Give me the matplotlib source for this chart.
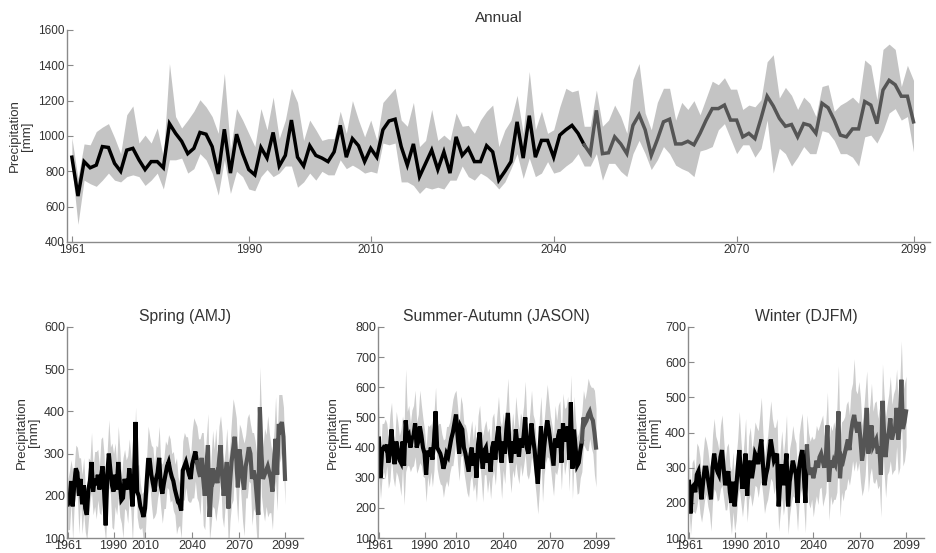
import numpy as np
import matplotlib
matplotlib.use('Agg')
import matplotlib.pyplot as plt

plt.rcParams['font.family'] = ['Liberation Sans', 'DejaVu Sans']

years = np.arange(1961, 2100)
tick_years = [1961, 1990, 2010, 2040, 2070, 2099]

# annual precipitation [mm], ensemble mean and spread
ann_mean = [880, 660, 855, 820, 835, 940, 935, 845, 800, 920,
            930, 865, 810, 855, 855, 820, 1070, 1015, 970, 900,
            930, 1020, 1010, 940, 785, 1038, 790, 1010, 900, 810,
            780, 935, 875, 1020, 830, 890, 1090, 880, 830, 945,
            890, 875, 855, 910, 1060, 880, 985, 945, 855, 930,
            880, 1035, 1085, 1095, 940, 835, 955, 770, 845, 920,
            810, 910, 790, 995, 890, 930, 855, 855, 945, 910,
            750, 800, 855, 1080, 875, 1115, 880, 975, 975, 880,
            1005, 1035, 1060, 1015, 950, 900, 1145, 900, 905, 995,
            955, 900, 1060, 1120, 1035, 890, 980, 1080, 1095, 955,
            955, 970, 950, 1015, 1090, 1155, 1155, 1175, 1090, 1090,
            995, 1015, 985, 1100, 1225, 1170, 1100, 1055, 1065, 995,
            1070, 1060, 1015, 1185, 1160, 1090, 1005, 995, 1040, 1040,
            1195, 1175, 1070, 1260, 1315, 1290, 1225, 1225, 1080]
ann_hi = [990, 760, 955, 950, 1025, 1050, 1070, 990, 900, 1120,
          1170, 960, 1005, 960, 1045, 880, 1410, 1110, 1045, 1090,
          1140, 1205, 1165, 1110, 1015, 1355, 920, 1155, 1090, 1015,
          940, 1155, 1035, 1220, 985, 1090, 1270, 1190, 975, 1090,
          1035, 975, 985, 985, 1140, 1015, 1200, 1090, 995, 1090,
          975, 1190, 1230, 1270, 1090, 1055, 1190, 940, 975, 1150,
          975, 1005, 975, 1130, 1055, 1060, 1015, 1090, 1140, 1175,
          940, 1035, 1090, 1230, 1015, 1365, 1035, 1140, 1015, 1035,
          1165, 1270, 1250, 1260, 1055, 1055, 1260, 1055, 1090, 1175,
          1110, 1015, 1320, 1410, 1130, 1035, 1190, 1270, 1270, 1090,
          1190, 1150, 1200, 1120, 1215, 1310, 1290, 1330, 1265, 1265,
          1150, 1175, 1165, 1205, 1420, 1460, 1215, 1275, 1230, 1150,
          1220, 1185, 1110, 1280, 1290, 1140, 1175, 1195, 1220, 1185,
          1430, 1400, 1205, 1490, 1520, 1490, 1280, 1400, 1315]
ann_lo = [830, 500, 750, 730, 715, 750, 790, 750, 740, 770,
          780, 770, 720, 750, 790, 700, 865, 865, 875, 790,
          815, 900, 865, 790, 665, 865, 675, 800, 770, 700,
          690, 770, 810, 770, 790, 830, 830, 710, 740, 790,
          750, 800, 780, 780, 865, 815, 835, 815, 790, 800,
          790, 960, 950, 960, 740, 740, 720, 675, 710, 700,
          710, 700, 750, 750, 830, 770, 750, 790, 770, 740,
          700, 740, 815, 900, 760, 875, 770, 790, 855, 790,
          800, 830, 855, 900, 830, 830, 900, 750, 845, 845,
          800, 770, 900, 975, 900, 810, 865, 940, 900, 835,
          815, 800, 770, 915, 925, 940, 1035, 1070, 985, 900,
          950, 950, 880, 930, 1090, 790, 930, 900, 830, 880,
          940, 900, 900, 1030, 1020, 975, 900, 900, 880, 830,
          995, 1005, 960, 1030, 1130, 1155, 1090, 1110, 910]

spring = [180, 190, 235, 175, 225, 265, 255, 200, 240, 180,
          225, 170, 155, 215, 235, 280, 210, 240, 225, 250,
          215, 245, 270, 210, 130, 250, 300, 260, 225, 210,
          250, 215, 280, 230, 190, 195, 240, 225, 215, 265,
          230, 175, 240, 375, 210, 200, 175, 165, 150, 170,
          230, 285, 285, 250, 230, 210, 240, 255, 290, 225,
          205, 230, 250, 270, 280, 260, 245, 235, 215, 200,
          185, 180, 165, 260, 270, 280, 265, 250, 240, 275,
          290, 305, 280, 260, 245, 290, 240, 200, 270, 320,
          150, 210, 265, 240, 250, 230, 280, 320, 250, 200,
          245, 280, 170, 230, 280, 310, 340, 290, 220, 310,
          280, 240, 215, 270, 290, 315, 300, 240, 260, 245,
          200, 155, 410, 300, 240, 250, 260, 270, 255, 240,
          210, 280, 335, 250, 370, 360, 375, 340, 240]
spring_hw = [60, 70, 50, 80, 45, 55, 60, 90, 50, 70,
             65, 55, 60, 75, 50, 70, 55, 65, 80, 60,
             55, 90, 70, 85, 40, 60, 80, 55, 100, 90,
             75, 60, 85, 80, 55, 95, 70, 60, 80, 70,
             65, 85, 50, 35, 60, 75, 55, 40, 60, 70,
             60, 80, 55, 70, 85, 60, 80, 60, 75, 55,
             70, 60, 80, 50, 65, 75, 55, 70, 60, 90,
             60, 50, 65, 70, 80, 60, 75, 65, 55, 80,
             95, 70, 85, 75, 90, 60, 110, 80, 70, 75,
             55, 80, 90, 70, 110, 60, 85, 70, 100, 75,
             65, 80, 110, 90, 100, 120, 70, 95, 85, 60,
             80, 100, 110, 75, 95, 80, 70, 110, 90, 85,
             100, 80, 95, 100, 75, 110, 85, 120, 95, 80,
             90, 75, 100, 85, 70, 80, 65, 70, 60]

summer = [430, 300, 390, 400, 395, 410, 350, 400, 460, 380,
          345, 420, 395, 360, 350, 420, 340, 490, 430, 440,
          400, 430, 440, 480, 400, 420, 470, 440, 400, 380,
          310, 390, 370, 400, 360, 420, 520, 400, 390, 380,
          360, 330, 350, 380, 370, 400, 430, 450, 480, 510,
          440, 380, 470, 460, 400, 380, 350, 320, 370, 400,
          340, 380, 300, 410, 450, 380, 330, 390, 400, 350,
          380, 320, 400, 420, 360, 430, 470, 400, 350, 420,
          380, 460, 515, 400, 350, 420, 380, 460, 410, 370,
          430, 400, 440, 500, 400, 380, 420, 480, 430, 390,
          330, 280, 380, 470, 330, 400, 450, 490, 460, 420,
          380, 340, 430, 400, 440, 460, 350, 480, 420, 440,
          470, 360, 550, 330, 460, 400, 340, 350, 390, 420,
          500, 480, 490, 510, 520, 500, 490, 450, 400]
summer_hw = [120, 70, 90, 80, 100, 70, 85, 110, 90, 80,
             75, 100, 90, 80, 110, 85, 130, 170, 90, 100,
             80, 95, 100, 110, 85, 90, 120, 100, 95, 80,
             90, 85, 100, 80, 90, 95, 80, 70, 90, 100,
             85, 95, 80, 90, 100, 85, 90, 110, 100, 80,
             95, 90, 100, 85, 80, 95, 100, 85, 80, 90,
             85, 100, 80, 95, 90, 85, 110, 80, 90, 100,
             85, 90, 100, 95, 85, 80, 100, 90, 120, 95,
             100, 90, 115, 90, 100, 95, 80, 110, 100, 90,
             85, 95, 100, 120, 90, 85, 100, 110, 80, 100,
             90, 100, 120, 100, 110, 90, 100, 120, 95, 85,
             95, 100, 110, 90, 100, 95, 90, 100, 110, 95,
             100, 105, 90, 100, 110, 90, 95, 100, 90, 100,
             90, 80, 100, 120, 90, 100, 110, 140, 130]

winter = [260, 170, 245, 250, 230, 280, 290, 250, 210, 260,
          300, 300, 270, 240, 210, 300, 340, 310, 290, 280,
          330, 350, 300, 250, 270, 290, 230, 200, 260, 190,
          240, 300, 350, 290, 240, 290, 340, 220, 300, 320,
          270, 300, 340, 330, 310, 350, 380, 310, 250, 280,
          300, 340, 380, 350, 320, 330, 340, 190, 260, 310,
          250, 290, 340, 190, 260, 290, 320, 300, 280, 200,
          300, 330, 350, 280, 200, 360, 300, 280, 300, 270,
          290, 320, 300, 330, 340, 320, 300, 330, 420, 260,
          320, 300, 320, 310, 350, 460, 270, 330, 320, 340,
          360, 380, 350, 400, 430, 450, 420, 400, 430, 380,
          320, 350, 400, 470, 340, 380, 420, 360, 370, 380,
          340, 360, 280, 490, 400, 330, 380, 400, 440, 380,
          400, 410, 470, 380, 420, 550, 410, 430, 460]
winter_hw = [80, 60, 70, 75, 60, 90, 70, 80, 65, 85,
             90, 75, 80, 70, 90, 95, 100, 80, 85, 70,
             90, 100, 85, 70, 90, 80, 75, 90, 85, 70,
             90, 85, 110, 90, 80, 85, 100, 75, 90, 95,
             80, 85, 90, 85, 95, 100, 120, 90, 80, 85,
             90, 100, 110, 90, 95, 85, 100, 70, 90, 95,
             85, 90, 110, 80, 95, 90, 100, 85, 90, 80,
             95, 100, 105, 90, 85, 90, 100, 95, 90, 110,
             95, 100, 105, 90, 95, 130, 90, 100, 95, 110,
             100, 105, 110, 100, 120, 130, 110, 100, 115, 105,
             120, 110, 100, 120, 110, 160, 100, 110, 115, 120,
             100, 110, 120, 105, 110, 100, 120, 100, 115, 110,
             100, 110, 120, 105, 110, 115, 100, 110, 120, 100,
             110, 115, 110, 100, 120, 110, 105, 110, 100]

AXC = '#8a8a8a'
TXT = '#333333'


def style(ax, ylim, yticks, xlim, fs, ylab_x):
    ax.set_xlim(*xlim)
    ax.set_ylim(*ylim)
    ax.set_yticks(yticks)
    ax.set_xticks(tick_years)
    ax.set_xticklabels([str(y) for y in tick_years])
    for s in ('top', 'right'):
        ax.spines[s].set_visible(False)
    for s in ('left', 'bottom'):
        ax.spines[s].set_color(AXC)
        ax.spines[s].set_linewidth(1.0)
    ax.tick_params(direction='in', length=4, width=0.8, color=AXC,
                   labelsize=fs, labelcolor=TXT, pad=1.5)
    ax.set_ylabel('Precipitation\n[mm]', fontsize=9.5, color=TXT,
                  linespacing=1.05)
    ax.yaxis.set_label_coords(ylab_x, 0.5)


def draw(ax, vals, lo, hi, split, lw, band):
    vals = np.asarray(vals, float)
    ax.fill_between(years, lo, hi, color=band, lw=0)
    m = years <= split
    ax.plot(years[m], vals[m], color='black', lw=lw, solid_joinstyle='miter')
    m = years >= split
    ax.plot(years[m], vals[m], color='#555555', lw=lw, solid_joinstyle='miter')


fig = plt.figure(figsize=(9.37, 5.53), dpi=100)

# annual panel
ax = fig.add_axes([0.0715, 0.5624, 0.921, 0.3834])
draw(ax, ann_mean, ann_lo, ann_hi, 2045, 2.5, '#c4c4c4')
style(ax, (400, 1600), range(400, 1601, 200), (1960.2, 2101.7), 8.5, -0.039)
ax.set_title('Annual', fontsize=11, color=TXT, pad=6)

# seasonal panels
seasons = [
    ('Spring (AMJ)', spring, spring_hw, 2043, (100, 600), 0.0715),
    ('Summer-Autumn (JASON)', summer, summer_hw, 2090, (100, 800), 0.4034),
    ('Winter (DJFM)', winter, winter_hw, 2036, (100, 700), 0.7343),
]
for title, vals, hw, split, ylim, left in seasons:
    ax = fig.add_axes([left, 0.0271, 0.252, 0.3816])
    v = np.asarray(vals, float)
    h = np.asarray(hw, float)
    draw(ax, v, v - h, v + h, split, 3.0, '#cdcdcd')
    style(ax, ylim, range(ylim[0], ylim[1] + 1, 100), (1960.4, 2110.5), 9, -0.115)
    ax.set_title(title, fontsize=11.3, color=TXT, pad=4)

fig.savefig('out.png', dpi=100)
